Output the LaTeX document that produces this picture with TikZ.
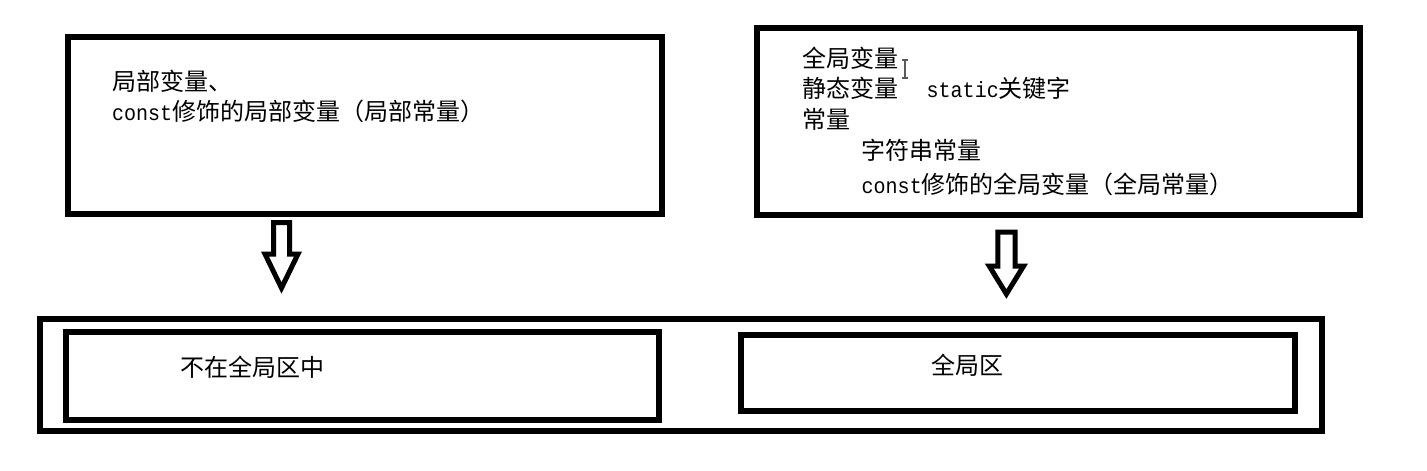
\documentclass[tikz,border=0pt]{standalone}
\usepackage{fontspec}
\newfontfamily\cjkfont{Noto Sans CJK SC}
\newfontfamily\monofnt{Liberation Mono}[FakeStretch=0.91]
\newcommand{\asc}[1]{{\monofnt\fontsize{22pt}{26pt}\selectfont #1}}
\begin{document}
\begin{tikzpicture}[x=1pt,y=-1pt,
  box/.style={draw=black, line width=6pt, inner sep=0pt, outer sep=0pt, fill=none},
  txt/.style={inner sep=0pt, outer sep=0pt, anchor=base west, text=black,
    font=\cjkfont\fontsize{24pt}{30pt}\selectfont},
  blockarrow/.style={draw=black, line width=5pt, line join=miter, fill=white}]
\useasboundingbox[fill=white] (0,0) rectangle (1427,471);

% upper boxes
\node[box, minimum width=594.2pt, minimum height=177.3pt] (b1) at (364.9,125.7) {};
\node[box, minimum width=603.3pt, minimum height=186.5pt] (b2) at (1058.6,121.7) {};

% lower boxes
\node[box, minimum width=1282.3pt, minimum height=112.5pt] (outer) at (680.9,374.75) {};
\node[box, minimum width=593pt, minimum height=88.8pt] (inl) at (362.2,375.9) {};
\node[box, minimum width=553.5pt, minimum height=76.5pt] (inr) at (1017.75,372.75) {};

% texts in box 1
\node[txt] (t11) at (112.7,90.5) {局部变量、};
\node[txt] (t12) at (112.0,120.8) {\asc{const}修饰的局部变量（局部常量）};

% texts in box 2
\node[txt] (t21) at (802.7,67.3) {全局变量};
\node[txt] (t22) at (802.7,97.5) {静态变量\hspace{28pt}\asc{static}关键字};
\node[txt] (t23) at (802.7,128.0) {常量};
\node[txt] (t24) at (861.7,159.5) {字符串常量};
\node[txt] (t25) at (861.7,193.0) {\asc{const}修饰的全局变量（全局常量）};

% text cursor (I-beam)
\coordinate (cur) at (905,60);
\draw[line width=1.4pt, draw=black!65] (cur) -- ++(0,18)
  (cur) ++(-3.2,0) -- ++(6.4,0)
  (cur) ++(-3.2,18) -- ++(6.4,0);

% texts in lower boxes
\node[txt] (tl) at (180.7,376.8) {不在全局区中};
\node[txt] (tr) at (931.7,374.8) {全局区};

% block arrows
\coordinate (a1) at (281.5,222.5);
\draw[blockarrow] (a1) ++(-8,0) -- ++(16,0) -- ++(0,31.5) -- ++(8.5,0)
  -- ++(-16.5,34) -- ++(-16.5,-34) -- ++(8.5,0) -- cycle;
\coordinate (a2) at (1006.4,232.2);
\draw[blockarrow] (a2) ++(-8.6,0) -- ++(17.2,0) -- ++(0,33.8) -- ++(8.6,0)
  -- ++(-17.2,28) -- ++(-17.2,-28) -- ++(8.6,0) -- cycle;
\end{tikzpicture}
\end{document}
